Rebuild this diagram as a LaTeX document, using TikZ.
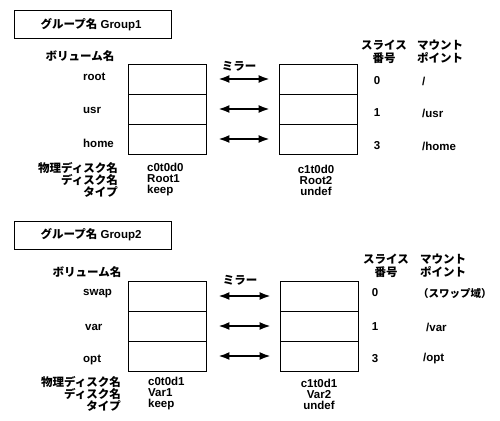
\documentclass[tikz,border=0pt]{standalone}
\usepackage{fontspec}
\setmainfont{Liberation Sans}
\newfontfamily\jp{Noto Sans CJK JP}
\usetikzlibrary{arrows.meta}
\begin{document}
\begin{tikzpicture}[x=1pt,y=-1pt,
  every node/.style={inner sep=0pt, font=\fontsize{11.5}{11}\selectfont\bfseries},
  slot/.style={draw, line width=0.8pt, minimum width=78pt, minimum height=30pt},
  mirror/.style={{Latex[length=11pt,width=8pt]}-{Latex[length=11pt,width=8pt]}, line width=2pt, shorten <=12pt, shorten >=9pt},
  gbox/.style={draw, line width=0.8pt, minimum width=157pt, minimum height=28pt},
  hdr/.style={align=center, font=\jp\fontsize{11.5}{13}\selectfont\bfseries},
  lbl/.style={anchor=west},
]
\useasboundingbox (0,0) rectangle (500,420);

% ---------------- Group 1 ----------------
\node[gbox] (g1) at (92.5,24) {};
\node (g1t) at (91,25) {{\jp グループ名} Group1};
\node (vol1) at (80,56) {\jp ボリューム名};
\node (mir1) at (239,66) {\jp ミラー};
\node[hdr] (sl1) at (384,51.5) {スライス\\番号};
\node[hdr] (mp1) at (440,51.5) {マウント\\ポイント};

\node[slot] (l1a) at (167,79) {};
\node[slot] (l1b) at (167,109) {};
\node[slot] (l1c) at (167,139) {};
\node[slot] (r1a) at (318,79) {};
\node[slot] (r1b) at (318,109) {};
\node[slot] (r1c) at (318,139) {};

\node[lbl] (v1a) at (83,77) {root};
\node[lbl] (v1b) at (83,110) {usr};
\node[lbl] (v1c) at (83,143) {home};

\draw[mirror] (l1a.east) -- (r1a.west);
\draw[mirror] (l1b.east) -- (r1b.west);
\draw[mirror] (l1c.east) -- (r1c.west);

\node (n1a) at (377,81) {0};
\node (n1b) at (377,113) {1};
\node (n1c) at (377,146) {3};
\node[lbl] (m1a) at (422,81) {/};
\node[lbl] (m1b) at (422,113) {/usr};
\node[lbl] (m1c) at (422,146) {/home};

\node[anchor=east, align=right, font=\jp\fontsize{11.5}{11}\selectfont\bfseries] (k1) at (118,180) {物理ディスク名\\ディスク名\\タイプ};
\node[anchor=west, align=left] (d1l) at (147,180) {c0t0d0\\Root1\\keep};
\node[align=center] (d1r) at (316,180) {c1t0d0\\Root2\\undef};

% ---------------- Group 2 ----------------
\node[gbox] (g2) at (92.5,235) {};
\node (g2t) at (91,235) {{\jp グループ名} Group2};
\node (vol2) at (87,272) {\jp ボリューム名};
\node (mir2) at (240,280) {\jp ミラー};
\node[hdr] (sl2) at (386,266) {スライス\\番号};
\node[hdr] (mp2) at (443,266) {マウント\\ポイント};

\node[slot] (l2a) at (167,296) {};
\node[slot] (l2b) at (167,326) {};
\node[slot] (l2c) at (167,356) {};
\node[slot] (r2a) at (319,296) {};
\node[slot] (r2b) at (319,326) {};
\node[slot] (r2c) at (319,356) {};

\node[lbl] (v2a) at (83,294) {swap};
\node[lbl] (v2b) at (85,327) {var};
\node[lbl] (v2c) at (83,360) {opt};

\draw[mirror] (l2a.east) -- (r2a.west);
\draw[mirror] (l2b.east) -- (r2b.west);
\draw[mirror] (l2c.east) -- (r2c.west);

\node (n2a) at (375,293) {0};
\node (n2b) at (375,327) {1};
\node (n2c) at (375,359) {3};
\node[lbl, font=\jp\fontsize{10.5}{11}\selectfont\bfseries] (m2a) at (418,293) {（スワップ域）};
\node[lbl] (m2b) at (426,327) {/var};
\node[lbl] (m2c) at (423,359) {/opt};

\node[anchor=east, align=right, font=\jp\fontsize{11.5}{11}\selectfont\bfseries] (k2) at (121,394) {物理ディスク名\\ディスク名\\タイプ};
\node[anchor=west, align=left] (d2l) at (148,394) {c0t0d1\\Var1\\keep};
\node[align=center] (d2r) at (319,394) {c1t0d1\\Var2\\undef};
\end{tikzpicture}
\end{document}
